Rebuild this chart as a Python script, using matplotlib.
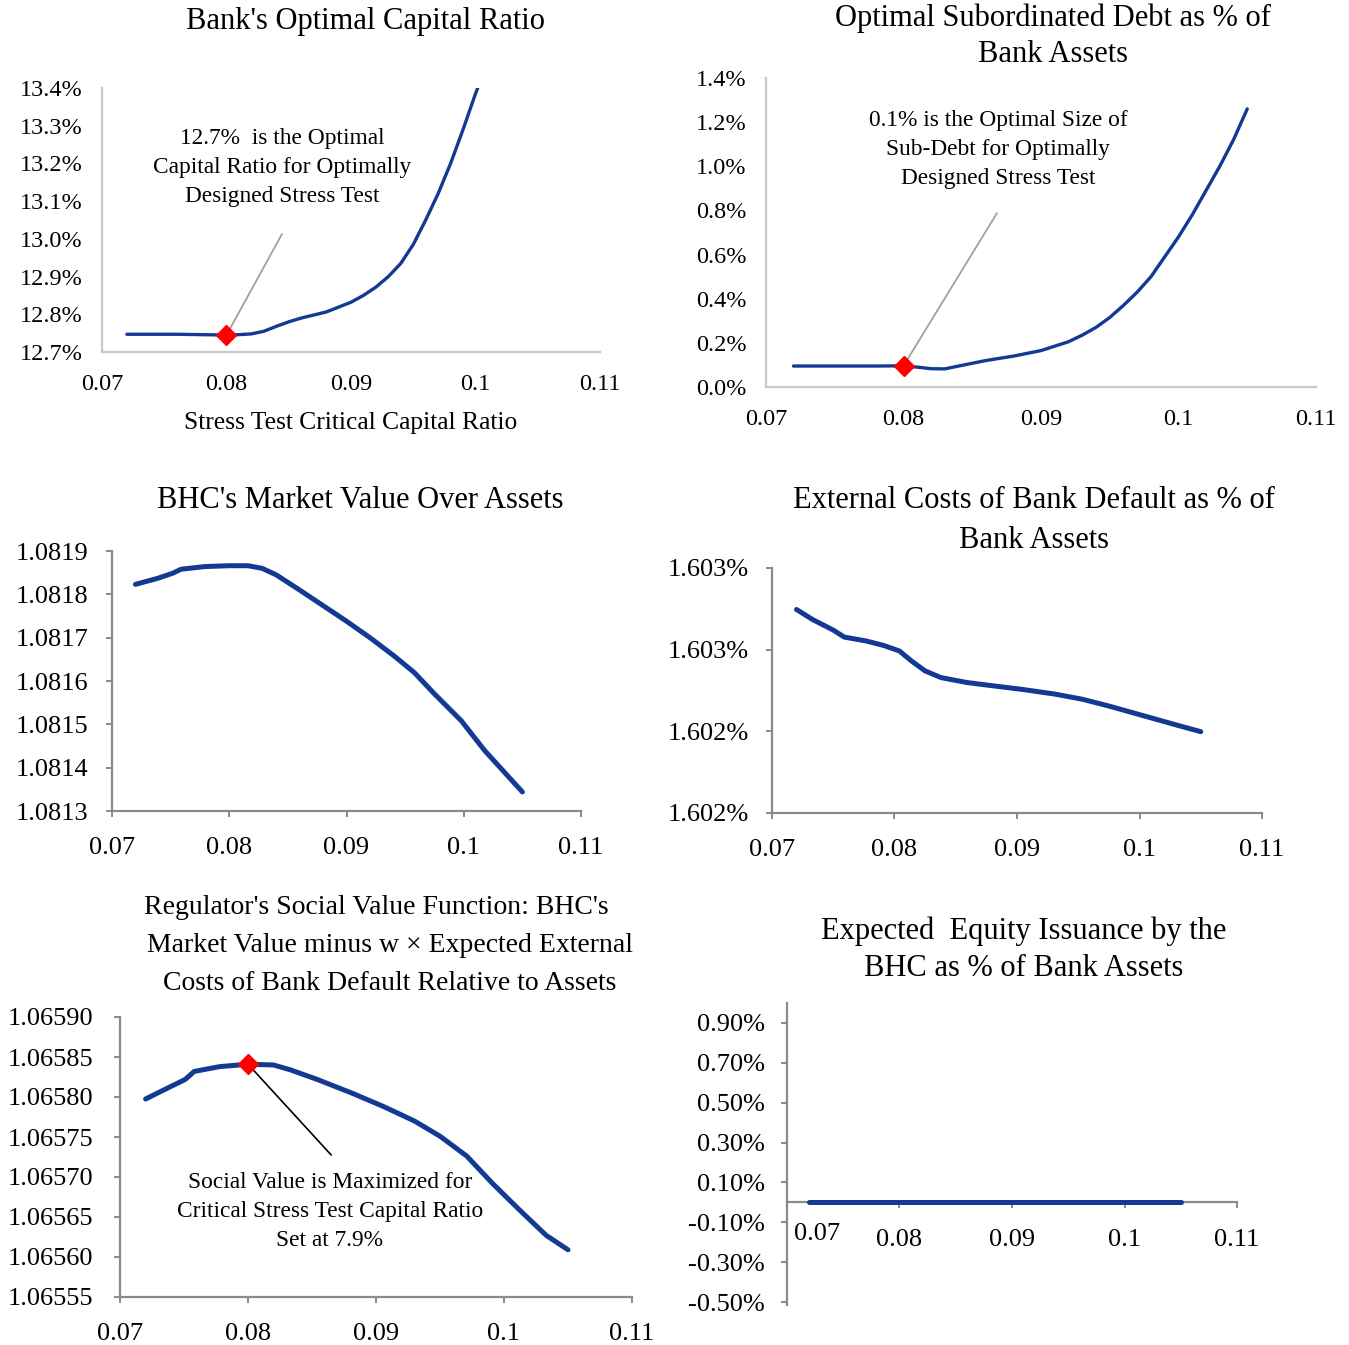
import numpy as np
import matplotlib
matplotlib.use('Agg')
import matplotlib.pyplot as plt
from matplotlib.ticker import FuncFormatter

#===============================================
# Data
#===============================================
# Bank's optimal capital ratio (%)
x_cap = [0.072, 0.074, 0.076, 0.078, 0.080, 0.081, 0.082, 0.083, 0.084, 0.085, 0.086, 0.088,
         0.090, 0.091, 0.092, 0.093, 0.094, 0.095, 0.096, 0.097, 0.098, 0.099, 0.100, 0.1003]
y_cap = [12.747, 12.747, 12.747, 12.746, 12.745, 12.746, 12.748, 12.755, 12.768, 12.780, 12.790, 12.806,
         12.832, 12.850, 12.872, 12.900, 12.935, 12.985, 13.050, 13.120, 13.200, 13.290, 13.385, 13.410]
opt_cap = (0.080, 12.745)

# Optimal subordinated debt (% of bank assets)
x_sub = [0.072, 0.074, 0.076, 0.078, 0.080, 0.081, 0.082, 0.083, 0.084, 0.086, 0.088, 0.090, 0.092,
         0.093, 0.094, 0.095, 0.096, 0.097, 0.098, 0.099, 0.100, 0.101, 0.102, 0.103, 0.104, 0.105]
y_sub = [0.095, 0.095, 0.095, 0.095, 0.096, 0.090, 0.083, 0.082, 0.095, 0.120, 0.140, 0.165, 0.205,
         0.235, 0.270, 0.315, 0.370, 0.430, 0.500, 0.590, 0.680, 0.780, 0.890, 1.000, 1.120, 1.260]
opt_sub = (0.080, 0.096)

# BHC market value over assets
x_mv = [0.072, 0.0739, 0.0752, 0.0759, 0.0779, 0.0799, 0.0816, 0.0828, 0.084, 0.086, 0.088, 0.090,
        0.092, 0.0941, 0.0958, 0.0974, 0.0998, 0.1018, 0.105]
y_mv = [1.081823, 1.081837, 1.081849, 1.081858, 1.081864, 1.081866, 1.081866, 1.081860, 1.081845,
        1.081810, 1.081774, 1.081738, 1.081700, 1.081657, 1.081619, 1.081573, 1.081508, 1.081439, 1.081344]

# External costs of bank default (% of bank assets)
x_ext = [0.072, 0.0733, 0.075, 0.0759, 0.0777, 0.0791, 0.0804, 0.0814, 0.0825, 0.0838, 0.0859, 0.0881,
         0.0903, 0.0931, 0.0953, 0.0974, 0.1003, 0.1032, 0.105]
y_ext = [1.602746, 1.602685, 1.602620, 1.602577, 1.602553, 1.602526, 1.602492, 1.602430, 1.602370,
         1.602329, 1.602299, 1.602278, 1.602258, 1.602228, 1.602197, 1.602157, 1.602096, 1.602035, 1.601998]
ext_ticks = [1.6015, 1.6020, 1.6025, 1.6030]
ext_labels = ['1.602%', '1.602%', '1.603%', '1.603%']

# Regulator's social value function
x_soc = [0.072, 0.0737, 0.0751, 0.0758, 0.0778, 0.080, 0.082, 0.0833, 0.0854, 0.0881, 0.0906, 0.093,
         0.095, 0.0971, 0.0991, 0.1012, 0.1033, 0.105]
y_soc = [1.0657975, 1.065811, 1.065822, 1.065832, 1.065838, 1.065841, 1.065840, 1.065834, 1.065822,
         1.065805, 1.065788, 1.065770, 1.065751, 1.065726, 1.065692, 1.065659, 1.065627, 1.065609]
opt_soc = (0.080, 1.065841)

# Expected equity issuance (% of bank assets)
x_eq = [0.072, 0.080, 0.090, 0.100, 0.105]
y_eq = [0.0, 0.0, 0.0, 0.0, 0.0]

x_ticks = [0.07, 0.08, 0.09, 0.1, 0.11]
x_labels = ['0.07', '0.08', '0.09', '0.1', '0.11']

#===============================================
# Figure setup
#===============================================
plt.rcParams['font.family'] = ['Liberation Serif', 'DejaVu Serif']
W, H = 1349, 1345
fig = plt.figure(figsize=(W / 100, H / 100), dpi=100)

BLUE = '#123a92'
LIGHT = '#c8c8c8'
GRAY = '#8a8a8a'
TITLE = 22
NOTE = 16.8


def px_axes(x0, y0, x1, y1):
    """Create axes from a pixel box (top-left origin)."""
    return fig.add_axes([x0 / W, 1 - y1 / H, (x1 - x0) / W, (y1 - y0) / H])


def fig_title(x, y, s, size=TITLE):
    fig.text(x / W, 1 - y / H, s, ha='center', va='center', fontsize=size)


def style(ax, spine_color, ticks=True, size=19, xpad=15, ypad=12):
    for s in ['top', 'right']:
        ax.spines[s].set_visible(False)
    for s in ['left', 'bottom']:
        ax.spines[s].set_color(spine_color)
        ax.spines[s].set_linewidth(1.6)
    ax.set_xlim(0.07, 0.11)
    ax.set_xticks(x_ticks)
    ax.set_xticklabels(x_labels)
    ln = 4 if ticks else 0
    ax.tick_params(axis='both', labelsize=size, color=spine_color, length=ln, width=1.4,
                   direction='out')
    ax.tick_params(axis='x', pad=xpad)
    ax.tick_params(axis='y', pad=ypad)
    ax.patch.set_alpha(0)


#===============================================
# Panel 1: Bank's optimal capital ratio
#===============================================
ax1 = px_axes(102, 88, 600, 352)
style(ax1, LIGHT, ticks=False, size=17.5, xpad=16, ypad=14)
ax1.plot(x_cap, y_cap, color=BLUE, lw=2.4, solid_capstyle='round')
ax1.set_ylim(12.7, 13.4)
ax1.set_yticks([12.7, 12.8, 12.9, 13.0, 13.1, 13.2, 13.3, 13.4])
ax1.yaxis.set_major_formatter(FuncFormatter(lambda v, p: f'{v:.1f}%'))
ax1.annotate('', xy=opt_cap, xytext=(0.08446, 13.013),
             arrowprops=dict(arrowstyle='-', color='#a0a0a0', lw=1.3, shrinkA=0, shrinkB=0))
ax1.plot(*opt_cap, marker='D', color='red', ms=10, zorder=5)
ax1.text(0.08446, 13.19, '12.7%  is the Optimal\nCapital Ratio for Optimally\nDesigned Stress Test',
         ha='center', va='center', fontsize=NOTE, linespacing=1.5)
ax1.set_xlabel('Stress Test Critical Capital Ratio', fontsize=18.4, labelpad=12)
fig_title(366, 22, "Bank's Optimal Capital Ratio")

#===============================================
# Panel 2: Optimal subordinated debt
#===============================================
ax2 = px_axes(766, 78, 1316, 387)
style(ax2, LIGHT, ticks=False, size=17.5, xpad=16, ypad=14)
ax2.plot(x_sub, y_sub, color=BLUE, lw=2.4, solid_capstyle='round')
ax2.set_ylim(0, 1.4)
ax2.set_yticks([0.0, 0.2, 0.4, 0.6, 0.8, 1.0, 1.2, 1.4])
ax2.yaxis.set_major_formatter(FuncFormatter(lambda v, p: f'{v:.1f}%'))
ax2.annotate('', xy=opt_sub, xytext=(0.0868, 0.788),
             arrowprops=dict(arrowstyle='-', color='#a0a0a0', lw=1.3, shrinkA=0, shrinkB=0))
ax2.plot(*opt_sub, marker='D', color='red', ms=10, zorder=5)
ax2.text(0.08687, 1.074, '0.1% is the Optimal Size of\nSub-Debt for Optimally\nDesigned Stress Test',
         ha='center', va='center', fontsize=NOTE, linespacing=1.5)
fig_title(1053, 18, 'Optimal Subordinated Debt as % of')
fig_title(1053, 55, 'Bank Assets')

#===============================================
# Panel 3: BHC market value over assets
#===============================================
ax3 = px_axes(112, 551, 581, 811)
style(ax3, GRAY, ypad=13)
ax3.plot(x_mv, y_mv, color=BLUE, lw=3.6, solid_capstyle='round')
ax3.set_ylim(1.0813, 1.0819)
ax3.set_yticks([1.0813, 1.0814, 1.0815, 1.0816, 1.0817, 1.0818, 1.0819])
ax3.yaxis.set_major_formatter(FuncFormatter(lambda v, p: f'{v:.4f}'))
fig_title(360, 501, "BHC's Market Value Over Assets")

#===============================================
# Panel 4: External costs of bank default
#===============================================
ax4 = px_axes(772, 568, 1262, 813)
style(ax4, GRAY, ypad=12.5)
ax4.plot(x_ext, y_ext, color=BLUE, lw=3.6, solid_capstyle='round')
ax4.set_ylim(1.6015, 1.6030)
ax4.set_yticks(ext_ticks)
ax4.set_yticklabels(ext_labels)
fig_title(1034, 501, 'External Costs of Bank Default as % of')
fig_title(1034, 540, 'Bank Assets')

#===============================================
# Panel 5: Regulator's social value function
#===============================================
ax5 = px_axes(120, 1017, 632, 1297)
style(ax5, GRAY, ypad=15)
ax5.plot(x_soc, y_soc, color=BLUE, lw=3.6, solid_capstyle='round')
ax5.set_ylim(1.06555, 1.06590)
ax5.set_yticks([1.06555, 1.06560, 1.06565, 1.06570, 1.06575, 1.06580, 1.06585, 1.06590])
ax5.yaxis.set_major_formatter(FuncFormatter(lambda v, p: f'{v:.5f}'))
ax5.annotate('', xy=opt_soc, xytext=(0.0865, 1.0657275),
             arrowprops=dict(arrowstyle='-', color='black', lw=1.2, shrinkA=0, shrinkB=0))
ax5.plot(*opt_soc, marker='D', color='red', ms=10, zorder=5)
ax5.text(0.0864, 1.0656575,
         'Social Value is Maximized for\nCritical Stress Test Capital Ratio\nSet at 7.9%',
         ha='center', va='center', fontsize=NOTE, linespacing=1.5)
fig_title(376, 908, "Regulator's Social Value Function: BHC's", size=20)
fig_title(390, 946, 'Market Value minus w \u00d7 Expected External', size=20)
fig_title(390, 983, 'Costs of Bank Default Relative to Assets', size=20)

#===============================================
# Panel 6: Expected equity issuance
#===============================================
ax6 = px_axes(787, 1003, 1237, 1305)
style(ax6, GRAY, ypad=12)
ax6.spines['bottom'].set_position(('data', 0))
ax6.plot(x_eq, y_eq, color=BLUE, lw=3.6, solid_capstyle='round', zorder=4)
ax6.set_ylim(-0.515, 1.0)
ax6.set_yticks([-0.5, -0.3, -0.1, 0.1, 0.3, 0.5, 0.7, 0.9])
ax6.yaxis.set_major_formatter(FuncFormatter(lambda v, p: f'{v:.2f}%'))
ax6.set_xticklabels([''] + x_labels[1:])
ax6.annotate('0.07', xy=(0.07, 0), xytext=(22, -15), textcoords='offset points',
             ha='center', va='top', fontsize=19)
fig_title(1024, 931, 'Expected  Equity Issuance by the')
fig_title(1024, 968, 'BHC as % of Bank Assets')

fig.savefig('out.png', dpi=100)
